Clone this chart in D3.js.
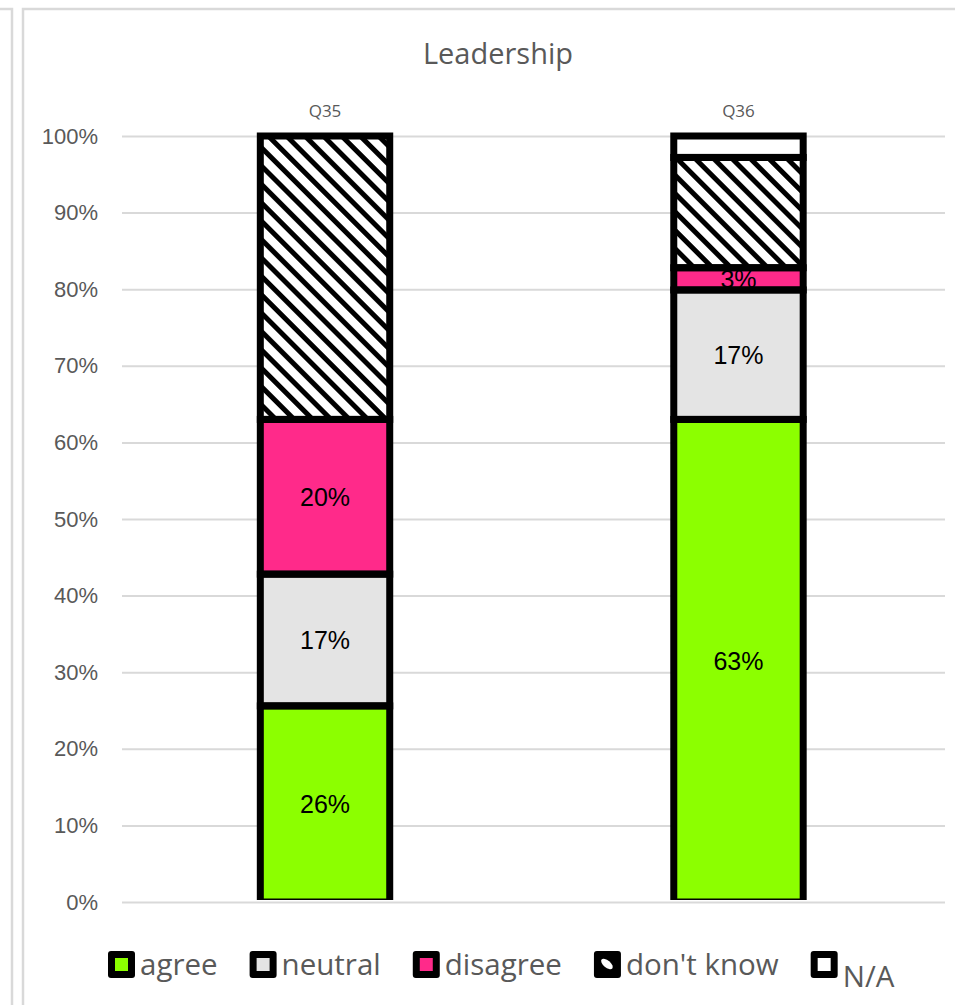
<!doctype html>
<html>
	<head>
		<meta charset="utf-8">
		<style type="text/css">
			body { margin: 0; background: #fff; }
			.axis text { font-family: "Liberation Sans", Arial, sans-serif; font-size: 22px; fill: #595959; }
			.axis line { stroke: #d9d9d9; stroke-width: 2px; }
		</style>
		<script src="https://d3js.org/d3.v7.min.js"></script>
	</head>
	<body>
		<svg width="955" height="1005"></svg>
		<script type="text/javascript">

			var categories = ["Q35", "Q36"];
			var seriesNames = ["agree", "neutral", "disagree", "don't know", "N/A"];
			var agree = [25.6, 63.0];
			var neutral = [17.2, 16.9];
			var disagree = [20.2, 2.9];
			var dontKnow = [37.0, 14.4];
			var na = [0, 2.8];
			var yTicks = [0, 10, 20, 30, 40, 50, 60, 70, 80, 90, 100];
			var labelled = ["agree", "neutral", "disagree"];

			var colors = {
				"agree": "#8cff00",
				"neutral": "#e4e4e4",
				"disagree": "#ff2a8a",
				"don't know": "url(#hatch)",
				"N/A": "#ffffff"
			};

			var rows = categories.map((c, i) => ({
				cat: c,
				"agree": agree[i],
				"neutral": neutral[i],
				"disagree": disagree[i],
				"don't know": dontKnow[i],
				"N/A": na[i]
			}));

			var svg = d3.select("svg");
			var calibri = "'Open Sans', 'Noto Sans', sans-serif";

			// hatch for "don't know"
			var defs = svg.append("defs");
			defs.append("pattern")
					.attr("id", "hatch")
					.attr("patternUnits", "userSpaceOnUse")
					.attr("width", 13)
					.attr("height", 13)
					.attr("patternTransform", "rotate(-45)")
				.call(p => {
					p.append("rect").attr("width", 13).attr("height", 13).attr("fill", "#fff");
					p.append("rect").attr("width", 5).attr("height", 13).attr("fill", "#000");
				});

			var plotTop = 136, plotBottom = 902, plotLeft = 122, plotRight = 945;

			defs.append("clipPath").attr("id", "plot")
				.append("rect")
					.attr("x", 0).attr("y", 0)
					.attr("width", 955).attr("height", plotBottom - 2);

			// frame lines
			svg.append("path")
				.attr("d", "M0,9H12V1005")
				.attr("fill", "none").attr("stroke", "#d9d9d9").attr("stroke-width", 2.5);
			svg.append("rect")
				.attr("x", 23).attr("y", 9).attr("width", 960).attr("height", 1010)
				.attr("fill", "none").attr("stroke", "#d9d9d9").attr("stroke-width", 2.5);

			var y = d3.scaleLinear().domain([0, 100]).range([plotBottom, plotTop]);
			var x = d3.scaleBand()
						.domain(categories)
						.range([118.5, plotRight])
						.paddingInner(0.687)
						.paddingOuter(0.343);

			// gridlines + tick labels
			svg.append("g")
					.attr("class", "axis")
					.attr("transform", `translate(${plotLeft},0)`)
				.call(d3.axisLeft(y)
						.tickValues(yTicks)
						.tickFormat(d => d + "%")
						.tickSize(-(plotRight - plotLeft))
						.tickPadding(24))
				.call(g => g.select(".domain").remove());

			// title
			svg.append("text")
				.attr("x", 498).attr("y", 64)
				.attr("text-anchor", "middle")
				.style("font-family", calibri)
				.style("font-size", "29px")
				.style("fill", "#595959")
				.text("Leadership");

			// category labels on top
			svg.append("g").selectAll("text")
				.data(categories).enter()
				.append("text")
					.attr("x", d => x(d) + x.bandwidth() / 2)
					.attr("y", 117)
					.attr("text-anchor", "middle")
					.style("font-family", calibri)
					.style("font-size", "17px")
					.style("fill", "#595959")
					.text(d => d);

			var stacked = d3.stack().keys(seriesNames)(rows);
			var segs = [];
			stacked.forEach(s => s.forEach(d => {
				if (d[1] - d[0] > 0) segs.push({ key: s.key, cat: d.data.cat, y0: d[0], y1: d[1] });
			}));

			var bars = svg.append("g").attr("clip-path", "url(#plot)");

			bars.selectAll("rect.fill")
				.data(segs).enter()
				.append("rect")
					.attr("class", "fill")
					.attr("x", d => x(d.cat))
					.attr("width", x.bandwidth())
					.attr("y", d => y(d.y1))
					.attr("height", d => y(d.y0) - y(d.y1))
					.attr("fill", d => colors[d.key]);

			bars.selectAll("text")
				.data(segs.filter(d => labelled.includes(d.key))).enter()
				.append("text")
					.attr("x", d => x(d.cat) + x.bandwidth() / 2)
					.attr("y", d => (y(d.y0) + y(d.y1)) / 2)
					.attr("dy", "0.36em")
					.attr("text-anchor", "middle")
					.style("font-family", "'Liberation Sans', Arial, sans-serif")
					.style("font-size", "25px")
					.style("fill", "#000")
					.text(d => Math.round(d.y1 - d.y0) + "%");

			bars.selectAll("rect.edge")
				.data(segs).enter()
				.append("rect")
					.attr("class", "edge")
					.attr("x", d => x(d.cat))
					.attr("width", x.bandwidth())
					.attr("y", d => y(d.y1))
					.attr("height", d => y(d.y0) - y(d.y1))
					.attr("fill", "none")
					.attr("stroke", "#000")
					.attr("stroke-width", 7);

			// legend
			var legend = svg.append("g").attr("transform", "translate(108,951)");
			var lx = 0;
			seriesNames.forEach(name => {
				var item = legend.append("g").attr("transform", `translate(${lx},0)`);
				item.append("rect")
					.attr("width", 27).attr("height", 27).attr("rx", 3)
					.attr("fill", "#000");
				if (name === "don't know") {
					item.append("ellipse")
						.attr("cx", 0).attr("cy", 0).attr("rx", 7).attr("ry", 3.5)
						.attr("transform", "translate(13,13) rotate(40)")
						.attr("fill", "#fff");
				} else {
					item.append("rect")
						.attr("x", 7).attr("y", 7).attr("width", 13).attr("height", 13)
						.attr("fill", colors[name]);
				}
				var t = item.append("text")
					.attr("x", 32)
					.attr("y", name === "N/A" ? 36 : 24)
					.style("font-family", calibri)
					.style("font-size", "29.5px")
					.style("fill", "#595959")
					.text(name);
				lx += 32 + t.node().getComputedTextLength() + 32;
			});
		</script>
	</body>
</html>
